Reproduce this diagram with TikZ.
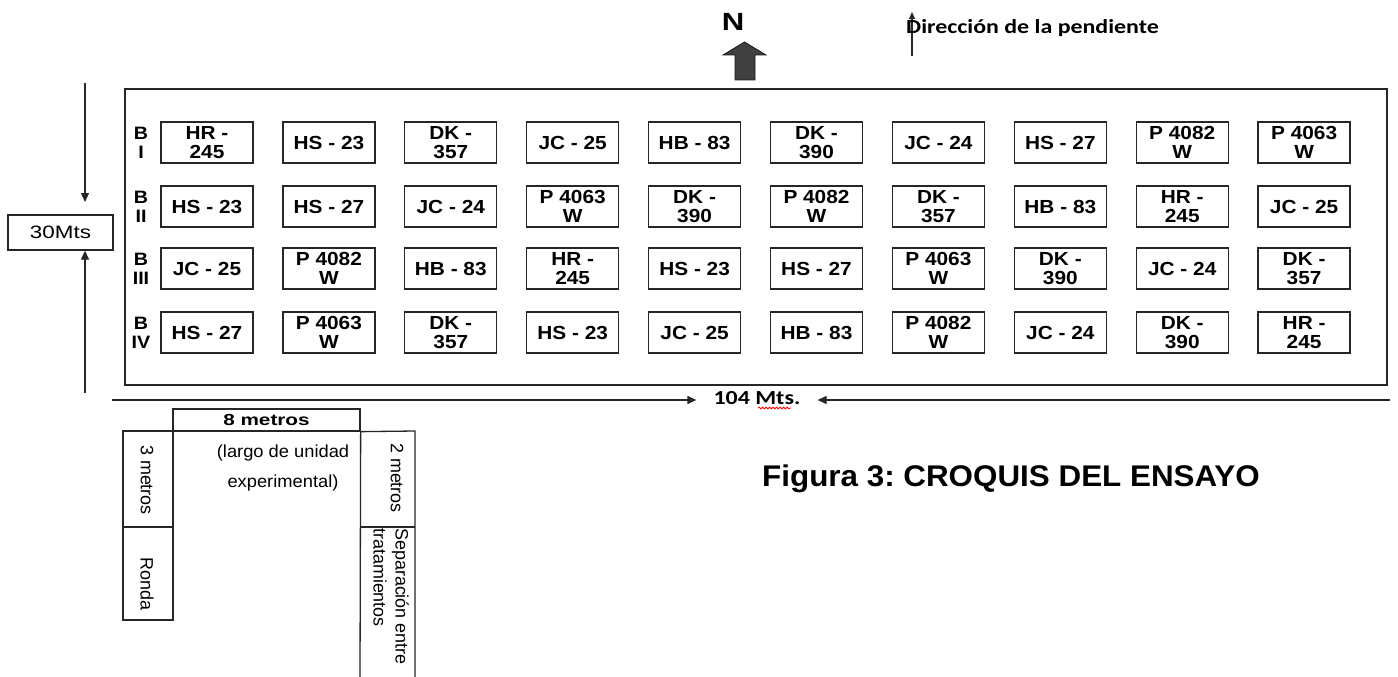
\documentclass[tikz,border=0pt]{standalone}
\usepackage{fontspec}
\usetikzlibrary{arrows.meta,decorations.pathmorphing}
\frenchspacing
\newfontfamily\cellfont[FakeStretch=1.1]{Liberation Sans}
\newfontfamily\widefont[FakeStretch=1.25]{Liberation Sans}
\newfontfamily\legfont[FakeStretch=1.3]{Liberation Sans}
\newfontfamily\largofont[FakeStretch=1.05]{Liberation Sans}
\newfontfamily\rotfont[FakeStretch=1.0]{Liberation Sans}
\newfontfamily\capfont[FakeStretch=1.05]{Liberation Sans}
\newfontfamily\calfont[FakeStretch=1.2]{Carlito}
\tikzset{
  cell/.style={draw=black!85, line width=1.3bp, minimum width=92bp, minimum height=41bp,
    inner sep=0pt, align=center, font=\cellfont\bfseries\fontsize{19}{19}\selectfont},
  blab/.style={inner sep=0pt, align=center, font=\cellfont\bfseries\fontsize{18}{19}\selectfont},
  arr/.style={-{Triangle[length=9bp,width=8bp]}, line width=1.3bp, draw=black!85},
  ln/.style={line width=1.3bp, draw=black!85},
  leg/.style={inner sep=0pt, align=center, font=\largofont\fontsize{17.5}{31}\selectfont},
  rot/.style={inner sep=0pt, rotate=-90, font=\rotfont\fontsize{18}{22}\selectfont},
}
\begin{document}
\begin{tikzpicture}[x=1bp,y=-1bp]
\fill[white] (0,0) rectangle (1398,677);
\useasboundingbox (0,0) rectangle (1398,677);

% North arrow
\node[inner sep=0pt, font=\widefont\bfseries\fontsize{25}{25}\selectfont] (N) at (733,22) {N};
\filldraw[fill=black!75, draw=black!90, line width=0.8bp]
  (735,80) -- (735,55) -- (723,55) -- (744.5,42) -- (766,55) -- (755,55) -- (755,80) -- cycle;

% slope direction
\coordinate (dirb) at (912,56);
\coordinate (dirt) at (912,12);
\draw[-{Triangle[length=7bp,width=6bp]}, line width=1.1bp, draw=black!85] (dirb) -- (dirt);
\node[anchor=west, inner sep=0pt, font=\calfont\bfseries\fontsize{20}{20}\selectfont] (dir) at (906,28) {Dirección de la pendiente};

% field
\node[draw=black!85, line width=1.5bp, minimum width=1262bp, minimum height=296bp, inner sep=0pt] (field) at (756,237) {};

% cells
\foreach \t [count=\i] in {{HR -\\245},{HS - 23},{DK -\\357},{JC - 25},{HB - 83},{DK -\\390},{JC - 24},{HS - 27},{P 4082\\W},{P 4063\\W}}
  \node[cell] (r1-\i) at ({207+121.9*(\i-1)},142.5) {\t};
\foreach \t [count=\i] in {{HS - 23},{HS - 27},{JC - 24},{P 4063\\W},{DK -\\390},{P 4082\\W},{DK -\\357},{HB - 83},{HR -\\245},{JC - 25}}
  \node[cell] (r2-\i) at ({207+121.9*(\i-1)},206.5) {\t};
\foreach \t [count=\i] in {{JC - 25},{P 4082\\W},{HB - 83},{HR -\\245},{HS - 23},{HS - 27},{P 4063\\W},{DK -\\390},{JC - 24},{DK -\\357}}
  \node[cell] (r3-\i) at ({207+121.9*(\i-1)},268.5) {\t};
\foreach \t [count=\i] in {{HS - 27},{P 4063\\W},{DK -\\357},{HS - 23},{JC - 25},{HB - 83},{P 4082\\W},{JC - 24},{DK -\\390},{HR -\\245}}
  \node[cell] (r4-\i) at ({207+121.9*(\i-1)},332.5) {\t};

% block labels
\node[blab] (b1) at (141,142.5) {B\\I};
\node[blab] (b2) at (141,206.5) {B\\II};
\node[blab] (b3) at (141,268.5) {B\\III};
\node[blab] (b4) at (141,332.5) {B\\IV};

% 30 Mts
\node[draw=black!85, line width=1.3bp, minimum width=105bp, minimum height=35bp, inner sep=0pt,
  font=\widefont\fontsize{18}{18}\selectfont] (m30) at (60.5,232.5) {30Mts};
\coordinate (t30) at (85,83);
\coordinate (d30) at (85,202);
\coordinate (b30) at (85,393);
\draw[arr] (t30) -- (d30);
\draw[arr] (b30) -- (b30 |- m30.south);

% 104 Mts
\coordinate (L104) at (112,400);
\coordinate (R104) at (1390,400);
\node[inner ysep=0pt, inner xsep=17bp, font=\calfont\bfseries\fontsize{20}{20}\selectfont] (m104) at (757,398) {104 Mts.};
\draw[arr] (L104) -- (L104 -| m104.west);
\draw[arr] (R104) -- (R104 -| m104.east);
\draw[red, line width=0.8bp, decorate, decoration={snake, amplitude=0.9bp, segment length=3.5bp}] (758,408) -- (791,408);

% legend
\node[draw=black!85, line width=1.3bp, minimum width=187bp, minimum height=22bp, inner sep=0pt,
  font=\legfont\bfseries\fontsize{16}{16}\selectfont] (m8) at (266.5,420) {8 metros};
\draw[ln] (123,431) rectangle (173,620);
\draw[ln] (123,527) -- (173,527);
\draw[ln] (m8.south east) -- (360,677);
\draw[ln] (m8.south east) -- (415,431) -- (415,677);
\draw[ln] (360,527) -- (415,527);
\node[leg] (largo) at (283,468) {(largo de unidad\\experimental)};
\node[rot] (m3) at (147,480) {3 metros};
\node[rot] (ronda) at (147,584) {Ronda};
\node[rot] (m2) at (397,478) {2 metros};
\node[rot, anchor=north west, align=left] (sep) at (409,528) {Separación entre\\tratamientos};

% caption
\node[anchor=west, inner sep=0pt, font=\capfont\bfseries\fontsize{30}{30}\selectfont] (cap) at (762,479) {Figura 3: CROQUIS DEL ENSAYO};
\end{tikzpicture}
\end{document}
